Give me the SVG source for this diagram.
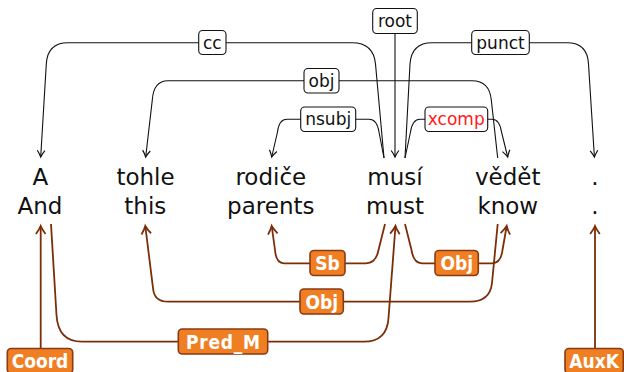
<svg xmlns="http://www.w3.org/2000/svg" width="624" height="372" viewBox="0 0 624 372">
<style>
.word{font-family:"DejaVu Sans",sans-serif;font-size:23px;fill:#111;text-anchor:middle}
.tl{font-family:"DejaVu Sans",sans-serif;font-size:17px;fill:#111;text-anchor:middle}
.bl{font-family:"DejaVu Sans Condensed","DejaVu Sans",sans-serif;font-stretch:condensed;font-size:19px;font-weight:bold;fill:#fff;text-anchor:middle}
.te{fill:none;stroke:#111;stroke-width:1.1;marker-end:url(#ab)}
.be{fill:none;stroke:#7c2e08;stroke-width:1.8;marker-end:url(#ar)}
.tb{fill:#fff;stroke:#111;stroke-width:1.1}
.bb{fill:#f07f23;stroke:#8a3a10;stroke-width:1.6}
</style>
<defs>
<marker id="ab" markerUnits="userSpaceOnUse" markerWidth="12" markerHeight="12" refX="0" refY="0" viewBox="-8 -6 10 12" orient="auto">
<path d="M-6.5,-3.8 Q-2.5,-1 0,0 Q-2.5,1 -6.5,3.8" fill="none" stroke="#111" stroke-width="1.2"/>
</marker>
<marker id="ar" markerUnits="userSpaceOnUse" markerWidth="14" markerHeight="14" refX="0" refY="0" viewBox="-10 -7 12 14" orient="auto">
<path d="M-8,-4.8 Q-3,-1.2 0,0 Q-3,1.2 -8,4.8" fill="none" stroke="#7c2e08" stroke-width="1.8"/>
</marker>
</defs>

<g id="connectors">
<path class="te" d="M384,158 L375.5,64 Q373.5,42.7 352,42.7 L68,42.7 Q47.5,42.7 46.3,64 L40.7,157"/>
<path class="te" d="M395,33.3 L395,157"/>
<path class="te" d="M405,158 L410,64 Q411.5,42.7 432,42.7 L567,42.7 Q587.5,42.7 588.5,64 L594.4,157"/>
<path class="te" d="M497.7,158 L491.3,100 Q489.5,80.7 472,80.7 L168,80.7 Q153.5,80.7 152.3,100 L145.7,157"/>
<path class="te" d="M384,158 L379,132 Q377,119.3 369,119.3 L287,119.3 Q279,119.3 277.5,132 L271.7,157"/>
<path class="te" d="M405,158 L410.5,132 Q412.5,119.3 420,119.3 L492,119.3 Q499.5,119.3 501.5,132 L507.7,157"/>
<path class="be" d="M385,224 L378.5,250 Q376,263.3 366,263.3 L284,263.3 Q276,263.3 275,250 L271.7,226"/>
<path class="be" d="M405,224 L411.5,250 Q413.5,263.3 422,263.3 L492,263.3 Q501,263.3 502.5,250 L506.7,226"/>
<path class="be" d="M497.7,224 L492,283 Q490,301.7 470,301.7 L168,301.7 Q154,301.7 153,288 L145.3,226"/>
<path class="be" d="M51,224 L56.5,315 Q58,341.7 82,341.7 L364,341.7 Q387,341.7 388.5,318 L395.5,226"/>
<path class="be" d="M40.7,348.5 L40.7,226"/>
<path class="be" d="M595,348.5 L595,226"/>
<g id="lab-cc"><rect class="tb" x="198.7" y="30.5" width="27.3" height="24" rx="4"/><text class="tl" x="212.3" y="48.5">cc</text></g>
<g id="lab-root"><rect class="tb" x="372.7" y="8.5" width="44.6" height="25" rx="4"/><text class="tl" x="395" y="27">root</text></g>
<g id="lab-punct"><rect class="tb" x="471.7" y="30.5" width="57.6" height="24" rx="4"/><text class="tl" x="500.5" y="48.5">punct</text></g>
<g id="lab-obj"><rect class="tb" x="304" y="68.5" width="35" height="24.5" rx="4"/><text class="tl" x="321.5" y="86.7">obj</text></g>
<g id="lab-nsubj"><rect class="tb" x="300.7" y="107" width="55" height="24.5" rx="4"/><text class="tl" x="328.2" y="125.2">nsubj</text></g>
<g id="lab-xcomp"><rect class="tb" x="425" y="107" width="62.7" height="24.5" rx="4"/><text class="tl" x="456.3" y="125.2" style="fill:#ff1a1a">xcomp</text></g>
<g id="lab-sb"><rect class="bb" x="310" y="250.5" width="35" height="25" rx="4"/><text class="bl" x="327.5" y="270">Sb</text></g>
<g id="lab-obj1"><rect class="bb" x="435" y="250.5" width="43.3" height="25" rx="4"/><text class="bl" x="456.7" y="270">Obj</text></g>
<g id="lab-obj2"><rect class="bb" x="300" y="289" width="43.3" height="25" rx="4"/><text class="bl" x="321.7" y="308.5">Obj</text></g>
<g id="lab-predm"><rect class="bb" x="178.3" y="329" width="89.4" height="25" rx="4"/><text class="bl" x="223" y="348.5" textLength="74" lengthAdjust="spacing">Pred_M</text></g>
<g id="lab-coord"><rect class="bb" x="7.3" y="348.5" width="65.4" height="25" rx="4"/><text class="bl" x="40" y="368">Coord</text></g>
<g id="lab-auxk"><rect class="bb" x="565" y="348.5" width="58.3" height="25" rx="4"/><text class="bl" x="594.2" y="368">AuxK</text></g>
</g>

<g id="w-a"><text class="word" x="40.3" y="185">A</text><text class="word" x="40" y="214">And</text></g>
<g id="w-tohle"><text class="word" x="145.5" y="185">tohle</text><text class="word" x="145.3" y="214">this</text></g>
<g id="w-rodice"><text class="word" x="270.8" y="185">rodiče</text><text class="word" x="270.8" y="214">parents</text></g>
<g id="w-musi"><text class="word" x="395" y="185">musí</text><text class="word" x="395" y="214">must</text></g>
<g id="w-vedet"><text class="word" x="507.7" y="185">vědět</text><text class="word" x="507.8" y="214">know</text></g>
<g id="w-dot"><text class="word" x="595" y="185">.</text><text class="word" x="595" y="214">.</text></g>
</svg>
